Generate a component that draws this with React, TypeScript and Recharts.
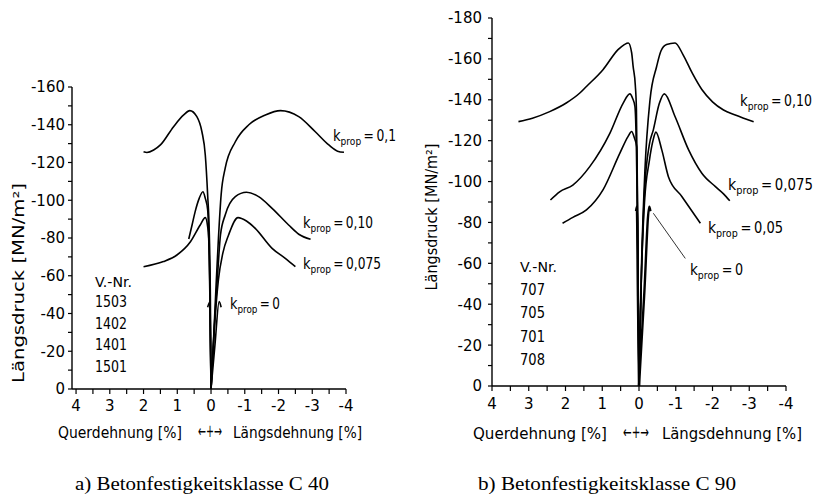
import { LineChart, Line, XAxis, YAxis, ReferenceLine } from 'recharts';

const FONT = '"DejaVu Sans", sans-serif';
const SERIF = '"Liberation Serif", serif';

// strain axis ticks [%] - half steps are unlabeled minor ticks
const strainTicks = [4, 3.5, 3, 2.5, 2, 1.5, 1, 0.5, 0, -0.5, -1, -1.5, -2, -2.5, -3, -3.5, -4];
const c40StressTicks = [-160, -150, -140, -130, -120, -110, -100, -90, -80, -70, -60, -50, -40, -30, -20, -10, 0];
const c90StressTicks = [-180, -170, -160, -150, -140, -130, -120, -110, -100, -90, -80, -70, -60, -50, -40, -30, -20, -10, 0];

// C 40: [strain %, stress MN/m2]
const c40K01Quer = [[2.0, -125.7], [1.9, -125.3], [1.7, -126.6], [1.5, -129.3], [1.11, -139], [0.81, -145.2], [0.63, -147.5], [0.42, -144.3], [0.27, -136.3], [0.17, -124], [0.1, -102.8], [0.05, -81.6], [0.02, -49.8], [0, 0]];
const c40K01Laengs = [[0, 0], [-0.08, -28], [-0.15, -55], [-0.22, -80], [-0.3, -103], [-0.42, -117], [-0.72, -131], [-1.12, -140], [-1.61, -145.2], [-2.06, -147.5], [-2.6, -144.3], [-3.09, -136.3], [-3.49, -129.3], [-3.75, -126], [-3.94, -125.4]];
const c40K010Quer = [[0.66, -79.5], [0.56, -87], [0.47, -94], [0.35, -101], [0.24, -104.5], [0.17, -101], [0.1, -95], [0.06, -75], [0.03, -45], [0, 0]];
const c40K010Laengs = [[0, 0], [-0.1, -34], [-0.2, -62], [-0.28, -81.6], [-0.42, -92.2], [-0.72, -101.9], [-1.05, -104.2], [-1.41, -101.9], [-1.81, -95.7], [-2.3, -86.9], [-2.6, -82], [-2.95, -79.3]];
const c40K0075Quer = [[2.0, -64.8], [1.41, -67.5], [1.01, -71], [0.61, -78], [0.32, -86.9], [0.17, -90.8], [0.1, -86], [0.07, -80], [0.03, -50], [0, 0]];
const c40K0075Laengs = [[0, 0], [-0.1, -32], [-0.22, -58], [-0.35, -72], [-0.52, -81.6], [-0.8, -90.8], [-1.05, -89], [-1.31, -85.1], [-1.81, -74.5], [-2.2, -69.2], [-2.5, -64.8]];
const c40K0Quer = [[0.1, -43.3], [0.04, -46], [0.02, -25], [0, 0]];
const c40K0Laengs = [[0, 0], [-0.12, -24], [-0.24, -46.3], [-0.3, -43.3]];

// C 90
const c90K010Quer = [[3.28, -129.3], [2.9, -131], [2.43, -134.2], [1.98, -138.4], [1.61, -143.3], [1.43, -146.5], [0.98, -154.7], [0.57, -164.5], [0.4, -167], [0.29, -167.8], [0.2, -163], [0.16, -156.3], [0.1, -147], [0.07, -135], [0.05, -100], [0.025, -50], [0, 0]];
const c90K010Laengs = [[0, 0], [-0.07, -60], [-0.16, -105], [-0.3, -140], [-0.48, -156.3], [-0.6, -164], [-0.75, -167], [-0.98, -167.8], [-1.2, -162], [-1.45, -153], [-1.71, -145], [-2.0, -139], [-2.3, -135], [-2.62, -132.6], [-3.12, -129.3]];
const c90K0075Quer = [[2.41, -91], [2.16, -95], [1.8, -98.3], [1.34, -107.3], [0.79, -123.7], [0.43, -138.4], [0.25, -142.9], [0.17, -140.5], [0.11, -136.7], [0.07, -115], [0.04, -80], [0, 0]];
const c90K0075Laengs = [[0, 0], [-0.06, -50], [-0.15, -95], [-0.28, -118], [-0.39, -125.3], [-0.55, -138], [-0.69, -142.9], [-0.98, -131.8], [-1.35, -115.5], [-1.71, -104.1], [-2.08, -97.5], [-2.3, -94], [-2.47, -90.6]];
const c90K005Quer = [[2.08, -79.6], [1.8, -82.5], [1.43, -86.1], [0.98, -95.9], [0.52, -113.9], [0.3, -122], [0.2, -124.5], [0.12, -121], [0.06, -117], [0.04, -90], [0, 0]];
const c90K005Laengs = [[0, 0], [-0.06, -50], [-0.15, -90], [-0.28, -110], [-0.38, -120], [-0.46, -124.2], [-0.62, -115.5], [-0.8, -102.4], [-1.17, -92.6], [-1.67, -79.6]];
const c90K0Quer = [[0.08, -85.5], [0.06, -87.7], [0.03, -44], [0, 0]];
const c90K0Laengs = [[0, 0], [-0.14, -44], [-0.28, -87.7], [-0.31, -85.5]];

const c40Versuche = ['1503', '1402', '1401', '1501'];
const c90Versuche = ['707', '705', '701', '708'];
const c40Labels = ['0,1', '0,10', '0,075', '0'];
const c90Labels = ['0,10', '0,075', '0,05', '0'];

const toRows = (pts: number[][]) => pts.map(([x, y]) => ({ x, y }));

type Curve = { name: string; pts: number[][]; w?: number };

const c40Curves: Curve[] = [
  { name: 'k01q', pts: c40K01Quer }, { name: 'k01l', pts: c40K01Laengs },
  { name: 'k010q', pts: c40K010Quer }, { name: 'k010l', pts: c40K010Laengs },
  { name: 'k0075q', pts: c40K0075Quer }, { name: 'k0075l', pts: c40K0075Laengs },
  { name: 'k0q', pts: c40K0Quer }, { name: 'k0l', pts: c40K0Laengs },
];
const c90Curves: Curve[] = [
  { name: 'k010q', pts: c90K010Quer }, { name: 'k010l', pts: c90K010Laengs },
  { name: 'k0075q', pts: c90K0075Quer }, { name: 'k0075l', pts: c90K0075Laengs },
  { name: 'k005q', pts: c90K005Quer }, { name: 'k005l', pts: c90K005Laengs },
  { name: 'k0q', pts: c90K0Quer, w: 2.4 }, { name: 'k0l', pts: c90K0Laengs, w: 2.4 },
];

// only whole percents get a label
const XTick = ({ x, y, payload }: any) =>
  Number.isInteger(payload.value) ? (
    <text x={x} y={y} dy="0.71em" textAnchor="middle" fontSize={15} fontFamily={FONT} fill="#000">
      {String(payload.value)}
    </text>
  ) : (
    <g />
  );

// labels every 20 MN/m2
const YTick = ({ x, y, payload }: any) =>
  payload.value % 20 === 0 ? (
    <text x={x} y={y} dy="0.36em" textAnchor="end" fontSize={15} fontFamily={FONT} fill="#000">
      {String(payload.value)}
    </text>
  ) : (
    <g />
  );

function Panel(props: any) {
  const { left, width, margin, xDomain, yDomain, yTicks, curves, yGap, xGap, children } = props;
  return (
    <div style={{ position: 'absolute', left, top: 0 }}>
      <LineChart width={width} height={503} margin={margin}>
        <XAxis
          type="number"
          dataKey="x"
          domain={xDomain}
          reversed
          allowDataOverflow
          ticks={strainTicks}
          interval={0}
          height={1}
          tickSize={5}
          tickMargin={xGap}
          axisLine={{ stroke: '#000', strokeWidth: 1.4 }}
          tickLine={{ stroke: '#000', strokeWidth: 1.2 }}
          tick={<XTick />}
        />
        <YAxis
          type="number"
          domain={yDomain}
          reversed
          allowDataOverflow
          ticks={yTicks}
          interval={0}
          width={1}
          tickSize={4}
          tickMargin={yGap}
          axisLine={{ stroke: '#000', strokeWidth: 1.4 }}
          tickLine={{ stroke: '#000', strokeWidth: 1.2 }}
          tick={<YTick />}
        />
        {curves.map((c: Curve) => (
          <Line
            key={c.name}
            name={c.name}
            data={toRows(c.pts)}
            dataKey="y"
            type="monotone"
            stroke="#000"
            strokeWidth={c.w ?? 1.6}
            dot={false}
            activeDot={false}
            isAnimationActive={false}
          />
        ))}
        {children}
      </LineChart>
    </div>
  );
}

const KLabel = ({ x, y, value, len }: { x: number; y: number; value: string; len: number }) => (
  <text x={x} y={y} fill="#000" fontFamily={FONT} fontSize={15} textLength={len} lengthAdjust="spacingAndGlyphs">
    <tspan fontSize={16}>k</tspan>
    <tspan fontSize={11} dy={4}>prop</tspan>
    <tspan dy={-4}>{'\u2009=\u2009' + value}</tspan>
  </text>
);

const Txt = ({ x, y, len, children, size = 15, anchor = 'start', rotate = false }: any) => (
  <text
    x={rotate ? 0 : x}
    y={rotate ? 0 : y}
    transform={rotate ? `translate(${x},${y}) rotate(-90)` : undefined}
    textAnchor={anchor}
    fill="#000"
    fontFamily={FONT}
    fontSize={size}
    textLength={len}
    lengthAdjust={len ? 'spacingAndGlyphs' : undefined}
  >
    {children}
  </text>
);

export default function App() {
  const c40LabelPos = [[333, 141, 63], [303, 228, 70], [303, 269, 78], [230, 309, 50]];
  const c90LabelPos = [[740, 106, 72], [728, 190, 85], [708, 233, 75], [690, 275, 53]];
  return (
    <div style={{ position: 'absolute', left: 0, top: 0, width: 819, height: 503, background: '#fff' }}>
      <Panel
        left={0}
        width={410}
        margin={{ top: 87, left: 71, right: 64, bottom: 113 }}
        xDomain={[-4, 4.12]}
        yDomain={[-160, 0]}
        yTicks={c40StressTicks}
        curves={c40Curves}
        yGap={3}
        xGap={6}
      />
      <Panel
        left={410}
        width={409}
        margin={{ top: 18, left: 81, right: 33, bottom: 116 }}
        xDomain={[-4, 4]}
        yDomain={[-180, 0]}
        yTicks={c90StressTicks}
        curves={c90Curves}
        yGap={6}
        xGap={7}
      >
        <ReferenceLine
          segment={[{ x: -0.39, y: -84.5 }, { x: -1.26, y: -62.4 }]}
          stroke="#000"
          strokeWidth={0.8}
        />
      </Panel>
      <svg width={819} height={503} style={{ position: 'absolute', left: 0, top: 0, pointerEvents: 'none' }}>
        {/* panel a */}
        <Txt x={24} y={283} len={200} size={16} anchor="middle" rotate>Längsdruck [MN/m²]</Txt>
        <Txt x={58} y={438} len={124}>Querdehnung [%]</Txt>
        <Txt x={198} y={437} len={24} size={17}>←+→</Txt>
        <Txt x={233} y={438} len={129}>Längsdehnung [%]</Txt>
        <Txt x={95} y={287} size={14.5} len={37}>V.-Nr.</Txt>
        {c40Versuche.map((v, i) => (
          <Txt key={v} x={95} y={307 + i * 21.7} size={15} len={32}>{v}</Txt>
        ))}
        {c40Labels.map((v, i) => (
          <KLabel key={v} x={c40LabelPos[i][0]} y={c40LabelPos[i][1]} len={c40LabelPos[i][2]} value={v} />
        ))}
        <text x={75} y={490} fontFamily={SERIF} fontSize={19} fill="#000" textLength={254} lengthAdjust="spacingAndGlyphs">
          a) Betonfestigkeitsklasse C 40
        </text>

        {/* panel b */}
        <Txt x={437} y={217} len={147} size={16} anchor="middle" rotate>Längsdruck [MN/m²]</Txt>
        <Txt x={473} y={439} len={134}>Querdehnung [%]</Txt>
        <Txt x={623} y={438} len={26} size={17}>←+→</Txt>
        <Txt x={662} y={439} len={140}>Längsdehnung [%]</Txt>
        <Txt x={520} y={272} size={14.5} len={37}>V.-Nr.</Txt>
        {c90Versuche.map((v, i) => (
          <Txt key={v} x={520} y={295 + i * 23.3} size={15} len={25}>{v}</Txt>
        ))}
        {c90Labels.map((v, i) => (
          <KLabel key={v} x={c90LabelPos[i][0]} y={c90LabelPos[i][1]} len={c90LabelPos[i][2]} value={v} />
        ))}
        <text x={478} y={490} fontFamily={SERIF} fontSize={19} fill="#000" textLength={258} lengthAdjust="spacingAndGlyphs">
          b) Betonfestigkeitsklasse C 90
        </text>
      </svg>
    </div>
  );
}
